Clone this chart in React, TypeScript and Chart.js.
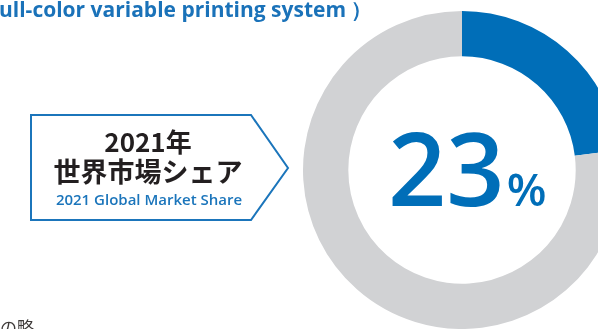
import React, { useEffect, useRef } from "react";
import { Chart, registerables } from "chart.js";

Chart.register(...registerables);

const segments = ["Share", "Others"];
const shareValues = [23, 77];
const segmentColors = ["#006EB8", "#D1D2D4"];
const titleText = "ull-color variable printing system ）";
const labelYear = "2021年";
const labelJa = "世界市場シェア";
const labelEn = "2021 Global Market Share";
const footText = "の略";

export default function App() {
  const ref = useRef<HTMLCanvasElement | null>(null);

  useEffect(() => {
    if (!ref.current) return;
    const chart = new Chart(ref.current, {
      type: "doughnut",
      data: {
        labels: segments,
        datasets: [
          {
            data: shareValues,
            backgroundColor: segmentColors,
            borderWidth: 0,
          },
        ],
      },
      options: {
        responsive: false,
        animation: false,
        cutout: "71.5%",
        layout: { padding: { left: 303, right: 19, top: 11, bottom: 0 } },
        plugins: {
          legend: { display: false },
          tooltip: { enabled: false },
        },
      },
    });
    return () => chart.destroy();
  }, []);

  const jp = '"Noto Sans CJK JP", sans-serif';
  const lat = '"Open Sans", sans-serif';

  return (
    <div
      style={{
        position: "fixed",
        left: 0,
        top: 0,
        width: 598,
        height: 329,
        overflow: "hidden",
        background: "#ffffff",
      }}
    >
      <canvas
        ref={ref}
        width={640}
        height={329}
        style={{ position: "absolute", left: 0, top: 0, width: 640, height: 329 }}
      />
      <div
        style={{
          position: "absolute",
          left: -1,
          top: -2,
          fontFamily: lat,
          fontWeight: 700,
          fontSize: 21,
          lineHeight: "22px",
          color: "#1A72B9",
          whiteSpace: "nowrap",
        }}
      >
        {titleText}
      </div>
      <svg
        width={598}
        height={329}
        style={{ position: "absolute", left: 0, top: 0 }}
      >
        <polygon
          points="31,115 251,115 288,168 251,220 31,220"
          fill="#ffffff"
          stroke="#1B75BB"
          strokeWidth={2}
        />
      </svg>
      <div
        style={{
          position: "absolute",
          left: 48,
          width: 200,
          top: 128,
          textAlign: "center",
          fontFamily: jp,
          fontWeight: 700,
          fontSize: 26,
          lineHeight: "26px",
          color: "#231F20",
          whiteSpace: "nowrap",
        }}
      >
        {labelYear}
      </div>
      <div
        style={{
          position: "absolute",
          left: 48,
          width: 200,
          top: 157,
          textAlign: "center",
          fontFamily: jp,
          fontWeight: 700,
          fontSize: 27,
          lineHeight: "27px",
          color: "#231F20",
          whiteSpace: "nowrap",
        }}
      >
        {labelJa}
      </div>
      <div
        style={{
          position: "absolute",
          left: 48,
          width: 202,
          top: 192,
          textAlign: "center",
          fontFamily: lat,
          fontWeight: 600,
          fontSize: 15,
          lineHeight: "15px",
          color: "#1B75BB",
          whiteSpace: "nowrap",
        }}
      >
        {labelEn}
      </div>
      <div
        style={{
          position: "absolute",
          left: 388,
          top: 112,
          fontFamily: lat,
          fontWeight: 600,
          color: "#006EB8",
          whiteSpace: "nowrap",
          lineHeight: "110px",
          height: 110,
        }}
      >
        <span style={{ fontSize: 102 }}>{shareValues[0]}</span>
        <span style={{ fontSize: 46, marginLeft: 2 }}>%</span>
      </div>
      <div
        style={{
          position: "absolute",
          left: 0,
          top: 318,
          fontFamily: jp,
          fontSize: 17,
          lineHeight: "17px",
          color: "#3E3A39",
          whiteSpace: "nowrap",
        }}
      >
        {footText}
      </div>
    </div>
  );
}
